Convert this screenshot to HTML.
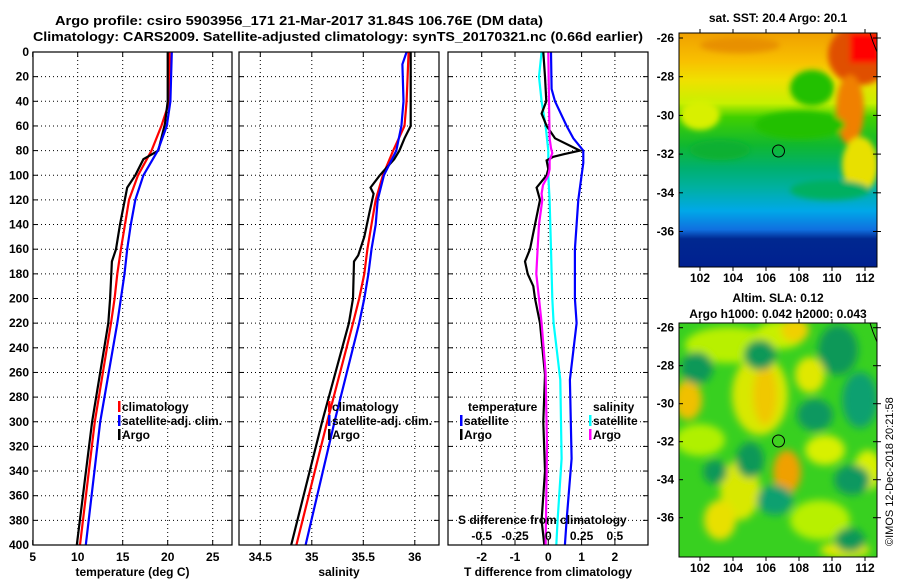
<!DOCTYPE html>
<html><head><meta charset="utf-8"><style>
html,body{margin:0;padding:0;background:#fff;}
svg{display:block;font-family:"Liberation Sans",Arial,sans-serif;font-weight:bold;}
</style></head><body>
<svg id="chart" width="900" height="580" viewBox="0 0 900 580" xmlns="http://www.w3.org/2000/svg">
<defs>
<linearGradient id="sstGrad" x1="0" y1="0" x2="0" y2="1">
<stop offset="0" stop-color="#f0a000"/><stop offset="0.12" stop-color="#f8c000"/>
<stop offset="0.2" stop-color="#f0e000"/><stop offset="0.3" stop-color="#c8f000"/>
<stop offset="0.36" stop-color="#40d000"/><stop offset="0.48" stop-color="#10b830"/>
<stop offset="0.58" stop-color="#00b070"/><stop offset="0.66" stop-color="#00b0a0"/>
<stop offset="0.76" stop-color="#00a8e8"/><stop offset="0.84" stop-color="#1070e0"/>
<stop offset="0.88" stop-color="#002890"/><stop offset="1" stop-color="#002090"/>
</linearGradient>
<filter id="blur6" x="-50%" y="-50%" width="200%" height="200%"><feGaussianBlur stdDeviation="4"/></filter>
<filter id="blur3" x="-50%" y="-50%" width="200%" height="200%"><feGaussianBlur stdDeviation="3"/></filter>
<clipPath id="clipSst"><rect x="679" y="33" width="198" height="234"/></clipPath>
<clipPath id="clipSla"><rect x="679" y="323" width="198" height="234"/></clipPath>
</defs>

<text x="55" y="25" font-size="13" textLength="488" lengthAdjust="spacingAndGlyphs">Argo profile: csiro 5903956_171 21-Mar-2017 31.84S 106.76E (DM data)</text>
<text x="33" y="41" font-size="13" textLength="610" lengthAdjust="spacingAndGlyphs">Climatology: CARS2009. Satellite-adjusted climatology: synTS_20170321.nc (0.66d earlier)</text>

<g id="panels"></g>

<!-- SST map -->
<g>
<g clip-path="url(#clipSst)">
<rect x="679" y="33" width="198" height="234" fill="url(#sstGrad)"/>
<g filter="url(#blur3)">
<ellipse cx="860" cy="55" rx="32" ry="30" fill="#e05000"/>
<rect x="850" y="33" width="30" height="30" fill="#ff0000"/>
<ellipse cx="850" cy="110" rx="14" ry="35" fill="#f08000"/>
<ellipse cx="860" cy="165" rx="18" ry="28" fill="#e8e000"/>
<ellipse cx="812" cy="88" rx="22" ry="18" fill="#20c000"/>
<ellipse cx="800" cy="125" rx="45" ry="14" fill="#20c000"/>
<ellipse cx="720" cy="150" rx="30" ry="10" fill="#10b030"/>
<ellipse cx="740" cy="45" rx="40" ry="8" fill="#e89000"/>
<ellipse cx="830" cy="190" rx="40" ry="10" fill="#00b060"/>
<ellipse cx="700" cy="115" rx="20" ry="15" fill="#d8f000"/>
</g>
<path d="M870,33 L873,42 L877,52" fill="none" stroke="#000" stroke-width="1"/>
</g>
<rect x="679" y="33" width="198" height="234" fill="none" stroke="#000" stroke-width="1"/>
<circle cx="778.5" cy="151" r="6" fill="none" stroke="#000" stroke-width="1"/>
</g>
<text x="778" y="22" font-size="12" text-anchor="middle">sat. SST: 20.4 Argo: 20.1</text>

<!-- SLA map -->
<g>
<g clip-path="url(#clipSla)">
<rect x="679" y="323" width="198" height="234" fill="#38d020"/>
<g filter="url(#blur6)">
<ellipse cx="730" cy="345" rx="45" ry="18" fill="#b8f000"/>
<ellipse cx="780" cy="335" rx="25" ry="14" fill="#c8f000"/>
<ellipse cx="795" cy="330" rx="14" ry="12" fill="#f0d000"/>
<ellipse cx="760" cy="395" rx="28" ry="40" fill="#d8e800"/>
<ellipse cx="765" cy="395" rx="12" ry="30" fill="#f0c800"/>
<ellipse cx="688" cy="400" rx="14" ry="20" fill="#f0c000"/>
<ellipse cx="700" cy="440" rx="25" ry="16" fill="#b0f000"/>
<ellipse cx="810" cy="375" rx="15" ry="18" fill="#e0e800"/>
<ellipse cx="787" cy="472" rx="14" ry="22" fill="#f0a000"/>
<ellipse cx="825" cy="450" rx="20" ry="15" fill="#d8f000"/>
<ellipse cx="740" cy="490" rx="20" ry="30" fill="#d8e800"/>
<ellipse cx="720" cy="520" rx="16" ry="20" fill="#e8e000"/>
<ellipse cx="820" cy="520" rx="30" ry="20" fill="#b8f000"/>
<ellipse cx="868" cy="470" rx="14" ry="20" fill="#d8f000"/>
<ellipse cx="845" cy="550" rx="25" ry="8" fill="#e0e800"/>
<ellipse cx="760" cy="355" rx="16" ry="15" fill="#109858"/>
<ellipse cx="697" cy="368" rx="16" ry="16" fill="#109858"/>
<ellipse cx="838" cy="350" rx="20" ry="25" fill="#109858"/>
<ellipse cx="860" cy="400" rx="18" ry="28" fill="#10a070"/>
<ellipse cx="815" cy="415" rx="18" ry="16" fill="#109860"/>
<ellipse cx="750" cy="460" rx="14" ry="18" fill="#109858"/>
<ellipse cx="715" cy="472" rx="12" ry="12" fill="#109858"/>
<ellipse cx="775" cy="500" rx="18" ry="15" fill="#10a070"/>
<ellipse cx="852" cy="480" rx="18" ry="15" fill="#109860"/>
<ellipse cx="850" cy="540" rx="15" ry="12" fill="#109858"/>
</g>
<path d="M870,323 L873,332 L877,342" fill="none" stroke="#000" stroke-width="1"/>
</g>
<rect x="679" y="323" width="198" height="234" fill="none" stroke="#000" stroke-width="1"/>
<circle cx="778.5" cy="441" r="6" fill="#40d020" stroke="#000" stroke-width="1"/>
</g>
<text x="778" y="302" font-size="12" text-anchor="middle">Altim. SLA: 0.12</text>
<text x="778" y="318" font-size="12" text-anchor="middle">Argo h1000: 0.042 h2000: 0.043</text>
<text transform="translate(893,546) rotate(-90)" font-size="11" font-weight="normal">©IMOS 12-Dec-2018 20:21:58</text>
<g id="mapaxes"></g>
</svg>
<script>
// ---------- data ----------
const depthTicks = [0,20,40,60,80,100,120,140,160,180,200,220,240,260,280,300,320,340,360,380,400];
const tempTicks = [5,10,15,20,25];
const salTicks = [34.5,35,35.5,36];
const dTTicks = [-2,-1,0,1,2];
const dSTicks = [-0.5,-0.25,0,0.25,0.5];
const dSTickLabels = ['-0.5','-0.25','0','0.25','0.5'];

const climTDepth = [0,40,60,80,100,120,140,160,180,200,220,300,400];
const climT = [20.2,20.2,19.3,18.2,16.7,15.7,15.25,14.8,14.4,14.1,13.7,11.9,10.25];
const satTDepth = [0,40,60,80,100,120,140,160,180,200,220,300,400];
const satT = [20.45,20.3,19.9,18.9,17.3,16.4,15.9,15.5,15.2,14.8,14.4,12.5,10.9];
const argoTDepth = [0,40,58,80,87,100,110,140,160,170,200,220,300,400];
const argoT = [20.0,20.0,19.7,18.95,17.3,16.4,15.5,14.7,14.25,13.8,13.6,13.4,11.6,9.9];

const climSDepth = [0,40,60,80,100,120,140,160,180,200,220,300,400];
const climS = [35.94,35.92,35.9,35.79,35.69,35.62,35.58,35.54,35.51,35.46,35.4,35.15,34.85];
const satSDepth = [0,10,40,60,80,100,120,140,160,180,200,220,300,400];
const satS = [35.92,35.88,35.89,35.87,35.82,35.7,35.64,35.62,35.58,35.55,35.51,35.46,35.22,34.94];
const argoSDepth = [0,60,70,80,87,100,110,115,130,150,165,170,200,220,300,400];
const argoS = [35.96,35.96,35.9,35.85,35.8,35.66,35.57,35.6,35.56,35.51,35.45,35.41,35.4,35.36,35.1,34.8];

const argoDTDepth = [0,20,40,50,60,70,80,83,85,88,95,100,110,120,140,160,170,180,190,200,220,262,300,340,380,400];
const argoDT = [-0.15,-0.1,-0.06,-0.2,-0.05,0.2,0.95,0.45,0.15,-0.05,0.0,-0.05,-0.35,-0.25,-0.4,-0.55,-0.7,-0.62,-0.45,-0.4,-0.25,-0.1,-0.15,-0.1,-0.2,-0.12];
const satDTDepth = [0,30,40,60,70,80,90,100,120,140,160,200,220,266,330,380,400];
const satDT = [0.08,0.1,0.2,0.55,0.75,1.05,1.05,1.0,0.9,0.85,0.8,0.8,0.85,0.65,0.7,0.55,0.5];
const satDSDepth = [0,20,40,60,80,100,120,160,200,220,266,330,380,400];
const satDS = [-0.05,-0.07,-0.05,-0.02,0.0,0.0,0.01,0.02,0.03,0.04,0.09,0.1,0.07,0.06];
const argoDSDepth = [0,40,70,78,82,88,95,100,108,115,120,140,160,180,200,220,260,320,400];
const argoDS = [0,0.005,0.01,0.02,0.03,0.01,0.01,0,-0.04,-0.05,-0.045,-0.07,-0.08,-0.09,-0.07,-0.05,-0.02,-0.01,-0.02];

const latTicks = [-26,-28,-30,-32,-34,-36];
const lonTicks = [102,104,106,108,110,112];

// ---------- scales ----------
const NS='http://www.w3.org/2000/svg';
const yD = d => 52 + d*1.2325;
const xT = t => 32.7 + (t-5)*9.0;
const xS = s => 260.3 + (s-34.5)*103;
const xDT = v => 548.3 + v*33.3;
const xDS = v => 548.3 + v*133.2;
const mapX = lon => 700 + (lon-102)*16.5;
const sstY = lat => 38 + (-26-lat)*19.35;
const slaY = lat => 327.7 + (-26-lat)*19.0;

function mk(tag, attrs, parent){ const e=document.createElementNS(NS,tag); for(const k in attrs) e.setAttribute(k,attrs[k]); parent.appendChild(e); return e; }
const root=document.getElementById('panels');

function panel(name,x0,x1,xticks,xfn,labels,xlabel){
  const g=mk('g',{},root);
  
  
  depthTicks.forEach((d,i)=>{
    if(i>0 && i<depthTicks.length-1){
      const l=mk('line',{x1:x0,x2:x1,y1:yD(d),y2:yD(d),stroke:'#000','stroke-width':1,'stroke-dasharray':'1,3'},g);
      
      
    }
    mk('line',{x1:x0,x2:x0+5,y1:yD(d),y2:yD(d),stroke:'#000'},g);
    mk('line',{x1:x1-5,x2:x1,y1:yD(d),y2:yD(d),stroke:'#000'},g);
  });
  xticks.forEach((t,i)=>{
    const x=xfn(t);
    if(x>x0+1 && x<x1-1){
      const l=mk('line',{x1:x,x2:x,y1:yD(0),y2:yD(400),stroke:'#000','stroke-width':1,'stroke-dasharray':'1,3'},g);
      
      
    }
    mk('line',{x1:x,x2:x,y1:yD(400)-5,y2:yD(400),stroke:'#000'},g);
    mk('line',{x1:x,x2:x,y1:yD(0),y2:yD(0)+5,stroke:'#000'},g);
    const tx=mk('text',{x:x,y:561,'font-size':12,'text-anchor':'middle'},g);
    tx.textContent=labels[i];
    
    
  });
  const xl=mk('text',{x:(x0+x1)/2,y:576,'font-size':12,'text-anchor':'middle'},g);
  xl.textContent=xlabel;
  
  
  return g;
}
function line(g,depths,vals,fx,color,name){
  const pts=depths.map((d,i)=>fx(vals[i]).toFixed(1)+','+yD(d).toFixed(1)).join(' ');
  const p=mk('polyline',{points:pts,fill:'none',stroke:color,'stroke-width':2.2,'stroke-linejoin':'miter'},g);
  
  
}
function frame(g,x0,x1){ mk('rect',{x:x0,y:yD(0),width:x1-x0,height:yD(400)-yD(0),fill:'none',stroke:'#000','stroke-width':1.2},g); }
function legend(g,x,y,color,label){
  if(color) mk('rect',{x:x,y:y-10,width:2.5,height:11,fill:color},g);
  const t=mk('text',{x:x+(color?4:0),y:y,'font-size':12},g);
  t.textContent=label;
  
  
}

// panel 1
const g1=panel('temperature-panel',33,232,tempTicks,xT,tempTicks.map(String),'temperature (deg C)');
depthTicks.forEach(d=>{
  const t=mk('text',{x:29,y:yD(d)+4,'font-size':12,'text-anchor':'end'},g1);
  t.textContent=String(d);
  
  
});
line(g1,climTDepth,climT,xT,'#ff0000','climatology-temperature-line');
line(g1,argoTDepth,argoT,xT,'#000000','argo-temperature-line');
line(g1,satTDepth,satT,xT,'#0000ff','satellite-temperature-line');
frame(g1,33,232);
legend(g1,118,411,'#ff0000','climatology');
legend(g1,118,425,'#0000ff','satellite-adj. clim.');
legend(g1,118,439,'#000000','Argo');

// panel 2
const g2=panel('salinity-panel',239,439,salTicks,xS,['34.5','35','35.5','36'],'salinity');
line(g2,climSDepth,climS,xS,'#ff0000','climatology-salinity-line');
line(g2,argoSDepth,argoS,xS,'#000000','argo-salinity-line');
line(g2,satSDepth,satS,xS,'#0000ff','satellite-salinity-line');
frame(g2,239,439);
legend(g2,328,411,'#ff0000','climatology');
legend(g2,328,425,'#0000ff','satellite-adj. clim.');
legend(g2,328,439,'#000000','Argo');

// panel 3
const g3=panel('difference-panel',448,648,dTTicks,xDT,dTTicks.map(String),'T difference from climatology');
line(g3,satDTDepth,satDT,xDT,'#0000ff','satellite-temperature-difference-line');
line(g3,satDSDepth,satDS,xDS,'#00ffff','satellite-salinity-difference-line');
line(g3,argoDTDepth,argoDT,xDT,'#000000','argo-temperature-difference-line');
line(g3,argoDSDepth,argoDS,xDS,'#ff00ff','argo-salinity-difference-line');
frame(g3,448,648);
legend(g3,468,411,null,'temperature');
legend(g3,460,425,'#0000ff','satellite');
legend(g3,460,439,'#000000','Argo');
legend(g3,593,411,null,'salinity');
legend(g3,589,425,'#00ffff','satellite');
legend(g3,589,439,'#ff00ff','Argo');
const st=mk('text',{x:458,y:524,'font-size':12},g3);
st.textContent='S difference from climatology';


dSTicks.forEach((v,i)=>{
  const t=mk('text',{x:xDS(v),y:540,'font-size':12,'text-anchor':'middle'},g3);
  t.textContent=dSTickLabels[i];
  
  
});

// map axes
const ma=document.getElementById('mapaxes');
[[sstY,33,267,282],[slaY,323,557,572]].forEach(([fy,top,bot,ly])=>{
  latTicks.forEach(lat=>{
    const y=fy(lat);
    mk('line',{x1:679,x2:683,y1:y,y2:y,stroke:'#000'},ma);
    mk('line',{x1:873,x2:881,y1:y,y2:y,stroke:'#000'},ma);
    const t=mk('text',{x:674,y:y+4,'font-size':12,'text-anchor':'end'},ma);
    t.textContent=String(lat);
    
    
  });
  lonTicks.forEach(lon=>{
    const x=mapX(lon);
    mk('line',{x1:x,x2:x,y1:top-4,y2:top,stroke:'#000'},ma);
    mk('line',{x1:x,x2:x,y1:bot,y2:bot+4,stroke:'#000'},ma);
    const t=mk('text',{x:x,y:ly,'font-size':12,'text-anchor':'middle'},ma);
    t.textContent=String(lon);
    
    
  });
});
</script>
</body></html>
